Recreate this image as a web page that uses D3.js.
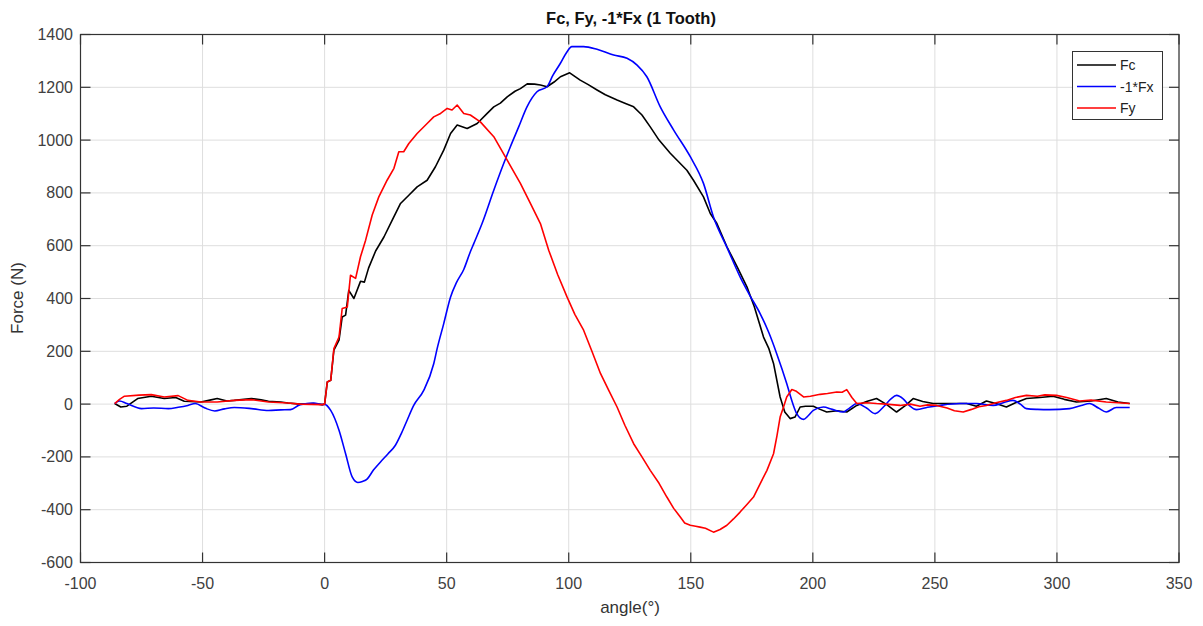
<!DOCTYPE html>
<html>
<head>
<meta charset="utf-8">
<script src="https://cdn.jsdelivr.net/npm/d3@7"></script>
<style>
  html, body { margin: 0; padding: 0; background: #fff; }
  svg { display: block; font-family: "Liberation Sans", Arial, sans-serif; }
</style>
</head>
<body>
<svg id="chart" width="1203" height="626"></svg>
<script>
// Cutting force components over one tooth engagement
const fcAngle = [-86,-83.5,-81,-76.6,-71,-65.7,-61,-57.5,-50.7,-47,-44,-40,-37,-33,-30,-26,-23,-18,-15,-10,-5,-1,0,1.1,2.5,3.8,5.9,7.2,8.6,9.9,12,14.7,16.3,18,20.9,24.3,27.7,31.1,34.5,37.9,42,45.4,48.8,51.6,54.3,58.4,62.5,66.6,69.3,72,74.8,78,80.2,83,86,88.4,91.1,94,96.6,100.4,104.7,108,111.6,115,119.8,123,126.6,130,133.4,137,141.6,145,148.4,151.1,155.2,158,160.7,164.8,169,173,176,179.8,182,183.9,186.6,188.5,190.7,192.7,194.8,197,200.2,203,205.7,210,213.9,218,222,226.1,230,234.3,238,241.1,245,249.3,256,263,267,271.1,275,279.3,283,287.5,293,298.4,303,308,314,320.2,325,329.8];
const fcValue = [2,-11,-8,21,30,21,25,11,8,15,21,12,14,18,21,16,11,8,4,0,2,-2,0,84,90,204,242,330,337,431,400,465,462,515,580,633,697,760,791,823,848,899,962,1025,1057,1044,1063,1101,1126,1140,1164,1185,1195,1213,1212,1209,1202,1220,1240,1255,1227,1210,1190,1172,1152,1140,1126,1095,1050,1000,950,918,886,848,785,722,684,596,520,444,370,254,210,154,27,-30,-55,-49,-11,-8,-8,-20,-30,-25,-30,-5,10,21,0,-30,-5,21,10,2,2,2,-8,12,2,-11,5,21,25,30,18,8,12,21,8,2];

const fxAngle = [-86,-84,-81,-75,-70,-64,-60,-56,-53,-49,-45,-41,-37,-30,-23,-18,-14,-10,-4.4,-1,0,2.5,5.9,8.6,11.3,13.6,15.5,17.5,20,22.9,26,29,31.5,33.8,36.5,40.6,44.7,46.1,48.8,51.6,54,57,59.7,61.1,64.5,69.3,73.4,76.1,79.5,82.9,87,91.1,93.5,96.6,99,101.3,106.1,111.6,118.4,123.9,128,132,137.5,143,149.8,155.2,159.3,165,170.2,174,178.4,182,185.2,189.3,191.5,193.4,196.2,198,200.2,204.3,208,212.5,215,218,222,225.5,229,232,234.3,237,239.5,242.5,247,252,260.2,267,273.9,278,282,285,287.5,292,297,305.2,310,313.4,317,320.2,324.3,329.8];
const fxValue = [2,12,2,-17,-15,-17,-12,-5,2,-15,-26,-18,-13,-17,-24,-22,-21,-2,4,-2,-1,-24,-99,-188,-276,-297,-293,-283,-250,-219,-188,-156,-110,-61,-5,52,153,210,305,406,460,510,577,608,684,810,912,975,1050,1126,1183,1202,1245,1291,1330,1354,1354,1344,1322,1310,1284,1240,1126,1038,937,836,709,590,482,415,343,270,191,78,10,-36,-58,-45,-24,-11,-20,-30,-15,2,-15,-36,-10,20,33,20,-5,-21,-12,-5,2,2,-5,5,14,0,-17,-20,-21,-17,-5,2,-15,-30,-13,-13];

const fyAngle = [-86,-84,-82,-76,-71,-65.7,-60,-56,-50.7,-44,-37,-30,-23,-15,-10,-1,0,1.1,2.5,3.8,5.9,7.2,9.3,10.6,12.7,14.7,16.8,19.5,22.2,25.6,28.4,30.4,32.4,34.5,37.9,42,44.7,47.5,50.2,52.2,54.3,57,59.7,63.8,69.3,74.8,80.2,84.3,88.4,91.8,95.5,99.3,102.5,106.1,109.5,113,116.5,119.8,123,126.6,130,133.4,137,140.2,143,145.7,147.5,149.8,152,153.8,156,159.3,162,164.8,167.5,170.2,173,175.7,178.5,181.2,183.9,185.3,186.6,188,189.3,191.4,193,196.2,199,203,206,209.8,212,213.9,216,218,222,226.1,230,235.7,240,243.9,247,250.7,255,258,261.6,265,268,271.1,275,279.3,283,287.5,292,295,299.8,304,309.3,314,320.2,325,329.8];
const fyValue = [2,18,30,34,36,27,32,14,8,8,14,17,8,4,0,-2,0,84,90,210,254,362,368,488,476,558,621,716,785,848,893,956,956,987,1025,1063,1088,1101,1120,1114,1133,1101,1095,1069,1013,924,836,760,684,583,490,406,340,280,200,116,50,-11,-80,-150,-200,-251,-300,-352,-395,-428,-450,-459,-463,-466,-470,-485,-475,-459,-435,-409,-380,-352,-300,-251,-188,-120,-49,-11,27,55,50,27,30,37,40,46,45,55,25,2,5,2,0,-5,0,-8,-3,-5,-15,-25,-30,-20,-10,-5,5,14,25,33,30,35,33,25,12,15,8,5,2];

const xTicks = [-100,-50,0,50,100,150,200,250,300,350];
const yTicks = [-600,-400,-200,0,200,400,600,800,1000,1200,1400];

const seriesNames = ["Fc", "-1*Fx", "Fy"];
const seriesColors = ["#000000", "#0000ff", "#ff0000"];

const svg = d3.select("#chart");
const plotL = 80.5, plotR = 1179, plotT = 34.5, plotB = 562.5;

const x = d3.scaleLinear().domain([-100, 350]).range([plotL, plotR]);
const y = d3.scaleLinear().domain([-600, 1400]).range([plotB, plotT]);

// grid
const grid = svg.append("g").attr("stroke", "#dedede").attr("stroke-width", 1);
grid.selectAll("line.gx").data(xTicks).join("line").attr("class", "gx")
  .attr("x1", d => x(d)).attr("x2", d => x(d)).attr("y1", plotT).attr("y2", plotB);
grid.selectAll("line.gy").data(yTicks).join("line").attr("class", "gy")
  .attr("x1", plotL).attr("x2", plotR).attr("y1", d => y(d)).attr("y2", d => y(d));

// curves
const series = [
  { a: fcAngle, v: fcValue, curve: d3.curveLinear },
  { a: fxAngle, v: fxValue, curve: d3.curveMonotoneX },
  { a: fyAngle, v: fyValue, curve: d3.curveLinear }
];
series.forEach((s, i) => {
  const line = d3.line().x(d => x(d[0])).y(d => y(d[1])).curve(s.curve);
  svg.append("path")
    .datum(s.a.map((a, k) => [a, s.v[k]]))
    .attr("fill", "none")
    .attr("stroke", seriesColors[i])
    .attr("stroke-width", 1.6)
    .attr("stroke-linejoin", "round")
    .attr("d", line);
});

// axes box and inward ticks
const axisColor = "#333";
svg.append("rect").attr("x", plotL).attr("y", plotT)
  .attr("width", plotR - plotL).attr("height", plotB - plotT)
  .attr("fill", "none").attr("stroke", axisColor).attr("stroke-width", 1.2);

const tickLen = 10;
const tk = svg.append("g").attr("stroke", axisColor).attr("stroke-width", 1.2);
xTicks.forEach(t => {
  tk.append("line").attr("x1", x(t)).attr("x2", x(t)).attr("y1", plotB).attr("y2", plotB - tickLen);
  tk.append("line").attr("x1", x(t)).attr("x2", x(t)).attr("y1", plotT).attr("y2", plotT + tickLen);
});
yTicks.forEach(t => {
  tk.append("line").attr("x1", plotL).attr("x2", plotL + tickLen).attr("y1", y(t)).attr("y2", y(t));
  tk.append("line").attr("x1", plotR).attr("x2", plotR - tickLen).attr("y1", y(t)).attr("y2", y(t));
});

// tick labels
svg.append("g").selectAll("text").data(xTicks).join("text")
  .attr("x", d => x(d)).attr("y", 588.5)
  .attr("text-anchor", "middle").attr("font-size", 16).attr("fill", "#404040")
  .text(d => d);
svg.append("g").selectAll("text").data(yTicks).join("text")
  .attr("x", 73).attr("y", d => y(d) + 5.5)
  .attr("text-anchor", "end").attr("font-size", 16).attr("fill", "#404040")
  .text(d => d);

// titles
svg.append("text").attr("x", 631).attr("y", 24)
  .attr("text-anchor", "middle").attr("font-size", 16.5).attr("font-weight", "bold")
  .attr("fill", "#111").text("Fc, Fy, -1*Fx (1 Tooth)");
svg.append("text").attr("x", 630).attr("y", 613)
  .attr("text-anchor", "middle").attr("font-size", 17).attr("fill", "#333").text("angle(°)");
svg.append("text").attr("transform", "translate(23,298) rotate(-90)")
  .attr("text-anchor", "middle").attr("font-size", 17).attr("fill", "#333").text("Force (N)");

// legend
const lg = svg.append("g");
lg.append("rect").attr("x", 1072.5).attr("y", 51.5).attr("width", 90).attr("height", 68)
  .attr("fill", "#fff").attr("stroke", axisColor).attr("stroke-width", 1);
seriesNames.forEach((name, i) => {
  const yy = 65 + i * 21.5;
  lg.append("line").attr("x1", 1077).attr("x2", 1116).attr("y1", yy).attr("y2", yy)
    .attr("stroke", seriesColors[i]).attr("stroke-width", 1.6);
  lg.append("text").attr("x", 1120).attr("y", yy + 5).attr("font-size", 14)
    .attr("fill", "#222").text(name);
});
</script>
</body>
</html>
